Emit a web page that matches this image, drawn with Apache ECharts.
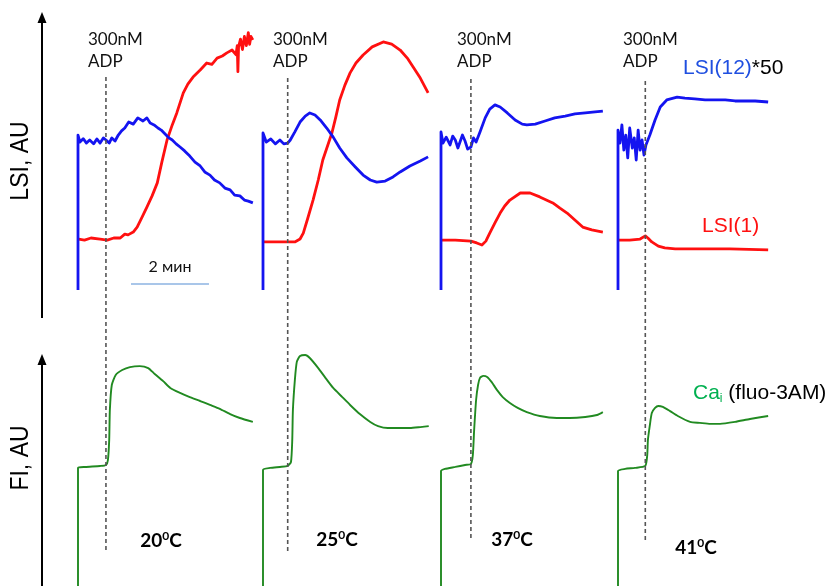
<!DOCTYPE html>
<html><head><meta charset="utf-8">
<script src="https://cdn.jsdelivr.net/npm/echarts@6/dist/echarts.min.js"></script>
<style>html,body{margin:0;padding:0;background:#fff}#c{width:829px;height:586px}</style>
</head><body><div id="c"></div>
<script>
// ---- DATA (time in s from trace start, signal in arbitrary units 0..100) ----
const temps = ['20', '25', '37', '41'];
const adpTimes = [43, 38, 46, 42];
const scaleBarSeconds = [81.5, 201.5];
const scaleBarLabel = '2 мин';

const lsi12_20 = [[0,0],[0,59.6],[3,56.9],[8,58.2],[13,56.5],[18,57.7],[24,56.2],[29,58.1],[34,56.5],[39,58.5],[43,57.7],[48,56.5],[52,58.5],[57,57.3],[62,59.6],[67,61.2],[72,62.3],[78,64.6],[85,63.8],[92,66.2],[100,65.0],[106,66.2],[111,64.2],[117,63.5],[123,62.3],[128,61.5],[134,60.0],[140,58.5],[145,57.7],[151,56.2],[157,55.0],[164,53.5],[172,51.5],[180,49.2],[188,47.7],[195,45.4],[203,44.2],[210,42.3],[218,41.2],[226,39.2],[234,38.5],[241,36.5],[249,36.2],[256,34.6],[262,34.2],[269,33.5]];
const lsi1_20 = [[1,19.6],[10,19.2],[20,20.0],[34,19.6],[45,19.2],[55,20.0],[65,20.0],[72,21.5],[77,21.2],[85,22.3],[91,24.2],[98,27.7],[106,31.9],[114,36.2],[122,41.2],[129,49.2],[137,57.7],[145,63.5],[152,68.1],[162,75.8],[169,79.2],[177,81.9],[188,84.6],[198,87.3],[206,86.8],[214,89.2],[222,90.0],[229,91.2],[237,92.3],[243,90.5],[245,94.0],[246,84.0],[247,93.5],[250,96.5],[253,92.5],[256,97.5],[259,94.0],[262,99.0],[264,94.5],[266,97.5],[269,96.2]];
const fluo_20 = [[0,0],[0,48.0],[11,48.4],[34,48.8],[43,49.2],[46,51.2],[48,59.3],[49,71.5],[52,81.7],[58,85.8],[68,87.8],[80,89.0],[95,89.4],[108,88.6],[118,86.2],[131,83.3],[142,80.5],[157,78.5],[172,76.8],[188,75.2],[203,73.6],[218,72.0],[234,69.9],[249,68.3],[269,66.7]];

const lsi12_25 = [[0,0],[0,60.4],[5,56.9],[12,58.1],[19,56.2],[26,57.7],[32,56.2],[38,56.5],[42,57.7],[49,60.8],[57,64.6],[65,66.9],[72,68.1],[80,67.3],[88,65.4],[98,62.3],[108,58.8],[118,54.6],[129,50.8],[142,47.3],[154,44.2],[165,42.3],[175,41.5],[188,41.9],[200,43.5],[211,45.4],[226,47.7],[242,49.6],[254,51.2]];
const lsi1_25 = [[1,18.5],[26,18.5],[49,18.5],[57,19.6],[62,21.9],[69,27.7],[77,34.6],[85,42.3],[92,50.0],[106,60.4],[112,66.5],[118,73.1],[126,78.8],[134,83.5],[143,87.3],[154,90.4],[168,93.5],[185,95.4],[198,94.6],[211,92.3],[222,89.2],[231,85.8],[242,81.5],[254,75.8]];
const fluo_25 = [[0,0],[0,47.2],[11,48.0],[26,48.4],[38,48.8],[43,50.4],[45,59.3],[46,71.5],[49,83.7],[52,91.1],[57,93.5],[65,93.9],[72,92.7],[85,88.6],[95,85.0],[108,80.5],[122,76.8],[134,73.6],[149,69.9],[165,66.7],[177,65.0],[192,64.2],[211,64.2],[226,64.2],[242,64.6],[255,65.0]];

const lsi12_37 = [[0,0],[0,60.8],[3,56.5],[8,58.8],[14,55.8],[18,59.2],[22,57.7],[26,54.6],[29,55.0],[33,59.6],[37,57.3],[41,54.2],[46,55.0],[50,58.5],[54,56.9],[60,60.8],[68,66.2],[75,69.6],[83,71.2],[91,70.4],[102,68.1],[114,65.4],[125,63.8],[132,63.5],[145,63.8],[160,65.0],[175,66.2],[191,66.9],[206,67.7],[222,68.1],[237,68.5],[249,68.8]];
const lsi1_37 = [[1,19.2],[22,19.2],[46,18.8],[55,18.1],[63,17.3],[69,18.8],[75,21.9],[83,25.8],[91,29.6],[98,32.3],[106,34.6],[122,37.3],[137,37.3],[152,35.8],[172,33.5],[183,31.5],[194,29.6],[206,26.9],[218,24.2],[232,23.1],[249,22.3]];
const fluo_37 = [[0,0],[0,46.7],[6,47.6],[22,48.4],[37,49.2],[46,49.6],[49,53.3],[51,63.4],[54,75.6],[57,81.7],[60,84.6],[65,85.4],[71,85.0],[78,82.9],[86,79.7],[95,76.8],[106,74.4],[118,72.4],[132,70.7],[152,69.1],[178,68.3],[198,68.3],[222,68.7],[240,69.5],[249,70.7]];

const lsi12_41 = [[0,0],[0,61.5],[3,56.5],[6,63.5],[9,53.8],[12,59.6],[15,50.8],[18,62.3],[22,54.6],[25,58.5],[28,50.0],[31,61.5],[34,53.8],[37,57.7],[40,51.9],[43,55.8],[49,59.6],[57,65.4],[65,70.4],[75,73.1],[91,74.2],[103,73.8],[118,73.5],[134,73.1],[149,73.1],[165,73.1],[180,72.7],[195,72.7],[211,72.7],[231,72.3]];
const lsi1_41 = [[1,19.2],[18,19.2],[34,19.6],[42,20.8],[46,20.0],[52,18.5],[62,16.9],[72,16.2],[88,15.8],[126,15.8],[172,15.8],[231,15.4]];
const fluo_41 = [[0,0],[0,46.7],[11,47.6],[26,48.0],[42,48.8],[45,53.3],[46,59.3],[49,65.4],[52,70.3],[57,72.4],[62,73.2],[69,72.8],[80,71.1],[92,69.1],[111,66.7],[126,66.3],[142,65.9],[157,65.9],[180,66.7],[203,67.9],[231,69.1]];

const lsi12 = [lsi12_20, lsi12_25, lsi12_37, lsi12_41];
const lsi1 = [lsi1_20, lsi1_25, lsi1_37, lsi1_41];
const fluo = [fluo_20, fluo_25, fluo_37, fluo_41];

// ---- LAYOUT / STYLE ----
const panelLeft = [78, 263, 441, 618];
const dashTop = [77, 77, 77, 80];
const dashBottom = [550, 551, 538, 540];
const tempPos = [[161, 541], [337, 540], [512, 540], [696, 548]];
const adpTextLeft = [88, 273, 457, 623];
const X_MAX = 300, PX_PER_S = 0.65;
const BLUE = '#1414f0', RED = '#ff1010', GREEN = '#218a21';

const grid = [], xAxis = [], yAxis = [], series = [];
for (let i = 0; i < 4; i++) {
  const w = X_MAX * PX_PER_S;
  grid.push({left: panelLeft[i], width: w, top: 30, height: 260});
  grid.push({left: panelLeft[i], width: w, top: 340, height: 246});
  grid.push({left: panelLeft[i], width: w, top: dashTop[i], height: dashBottom[i] - dashTop[i]});
  for (let k = 0; k < 3; k++) {
    xAxis.push({type: 'value', gridIndex: 3*i+k, min: 0, max: X_MAX, show: false});
    yAxis.push({type: 'value', gridIndex: 3*i+k, min: 0, max: k === 2 ? 1 : 100, show: false});
  }
  const base = {type: 'line', symbol: 'none', showSymbol: false, animation: false, silent: true, clip: false};
  series.push(Object.assign({}, base, {xAxisIndex: 3*i, yAxisIndex: 3*i, data: lsi1[i], z: 2,
    lineStyle: {color: RED, width: 2.8, join: 'round'}}));
  series.push(Object.assign({}, base, {xAxisIndex: 3*i, yAxisIndex: 3*i, data: lsi12[i], z: 3,
    lineStyle: {color: BLUE, width: 2.8, join: 'round'}}));
  series.push(Object.assign({}, base, {xAxisIndex: 3*i+1, yAxisIndex: 3*i+1, data: fluo[i], z: 3, smooth: 0.2,
    lineStyle: {color: GREEN, width: 1.9}}));
  series.push(Object.assign({}, base, {xAxisIndex: 3*i+2, yAxisIndex: 3*i+2, z: 5,
    data: [[adpTimes[i], 0], [adpTimes[i], 1]],
    lineStyle: {color: '#555', width: 1.6, type: [4, 3]}}));
}
// scale bar (2 min) in first panel
series.push({type: 'line', symbol: 'none', animation: false, silent: true, xAxisIndex: 0, yAxisIndex: 0,
  data: [[scaleBarSeconds[0], 2.3], [scaleBarSeconds[1], 2.3]], lineStyle: {color: '#8db3e2', width: 1.3}});

const graphic = [];
// axis arrows
graphic.push({type: 'line', shape: {x1: 42, y1: 318, x2: 42, y2: 20}, style: {stroke: '#000', lineWidth: 2}});
graphic.push({type: 'polygon', shape: {points: [[42, 12], [37.5, 23], [46.5, 23]]}, style: {fill: '#000'}});
graphic.push({type: 'line', shape: {x1: 42, y1: 586, x2: 42, y2: 362}, style: {stroke: '#000', lineWidth: 2}});
graphic.push({type: 'polygon', shape: {points: [[42, 354], [37.5, 365], [46.5, 365]]}, style: {fill: '#000'}});
// axis titles
graphic.push({type: 'text', x: 21, y: 161, rotation: Math.PI/2, scaleY: 1.15,
  style: {text: 'LSI, AU', fontSize: 23, fontFamily: 'Liberation Sans', fill: '#000', align: 'center', verticalAlign: 'middle'}});
graphic.push({type: 'text', x: 21, y: 458, rotation: Math.PI/2, scaleY: 1.15,
  style: {text: 'FI, AU', fontSize: 23, fontFamily: 'Liberation Sans', fill: '#000', align: 'center', verticalAlign: 'middle'}});
// ADP labels and temperatures
for (let i = 0; i < 4; i++) {
  graphic.push({type: 'text', style: {x: adpTextLeft[i], y: 40, text: '300nM', fontSize: 17, fontFamily: 'Lato', fill: '#111', verticalAlign: 'middle'}});
  graphic.push({type: 'text', style: {x: adpTextLeft[i], y: 62, text: 'ADP', fontSize: 17, fontFamily: 'Lato', fill: '#111', verticalAlign: 'middle'}});
  graphic.push({type: 'text', style: {x: tempPos[i][0], y: tempPos[i][1], align: 'center', verticalAlign: 'middle',
    text: '{b|' + temps[i] + '}{s|0}{b|C}',
    rich: {b: {fontSize: 19, fontWeight: 'bold', fontFamily: 'Lato', fill: '#000', lineHeight: 22},
           s: {fontSize: 12, fontWeight: 'bold', fontFamily: 'Lato', fill: '#000', verticalAlign: 'top', lineHeight: 22}}}});
}
graphic.push({type: 'text', style: {x: 170, y: 267, text: scaleBarLabel, fontSize: 16, fontFamily: 'Lato', fill: '#111', align: 'center', verticalAlign: 'middle'}});
// legends
graphic.push({type: 'text', style: {x: 683, y: 68, verticalAlign: 'middle', text: '{a|LSI(12)}{b|*50}',
  rich: {a: {fontSize: 21, fontFamily: 'Liberation Sans', fill: '#1f4fe0'}, b: {fontSize: 21, fontFamily: 'Liberation Sans', fill: '#000'}}}});
graphic.push({type: 'text', style: {x: 702, y: 226, verticalAlign: 'middle', text: 'LSI(1)', fontSize: 21, fontFamily: 'Liberation Sans', fill: '#ff1010'}});
graphic.push({type: 'text', style: {x: 693, y: 393, verticalAlign: 'middle', text: '{a|Ca}{s|i}{b| (fluo-3AM)}',
  rich: {a: {fontSize: 21, fontFamily: 'Liberation Sans', fill: '#00b050', lineHeight: 24},
         s: {fontSize: 12, fontFamily: 'Liberation Sans', fill: '#00b050', verticalAlign: 'bottom', lineHeight: 24},
         b: {fontSize: 21, fontFamily: 'Liberation Sans', fill: '#000', lineHeight: 24}}}});

const chart = echarts.init(document.getElementById('c'), null, {renderer: 'canvas'});
chart.setOption({backgroundColor: '#fff', animation: false, grid, xAxis, yAxis, series, graphic});
</script></body></html>
